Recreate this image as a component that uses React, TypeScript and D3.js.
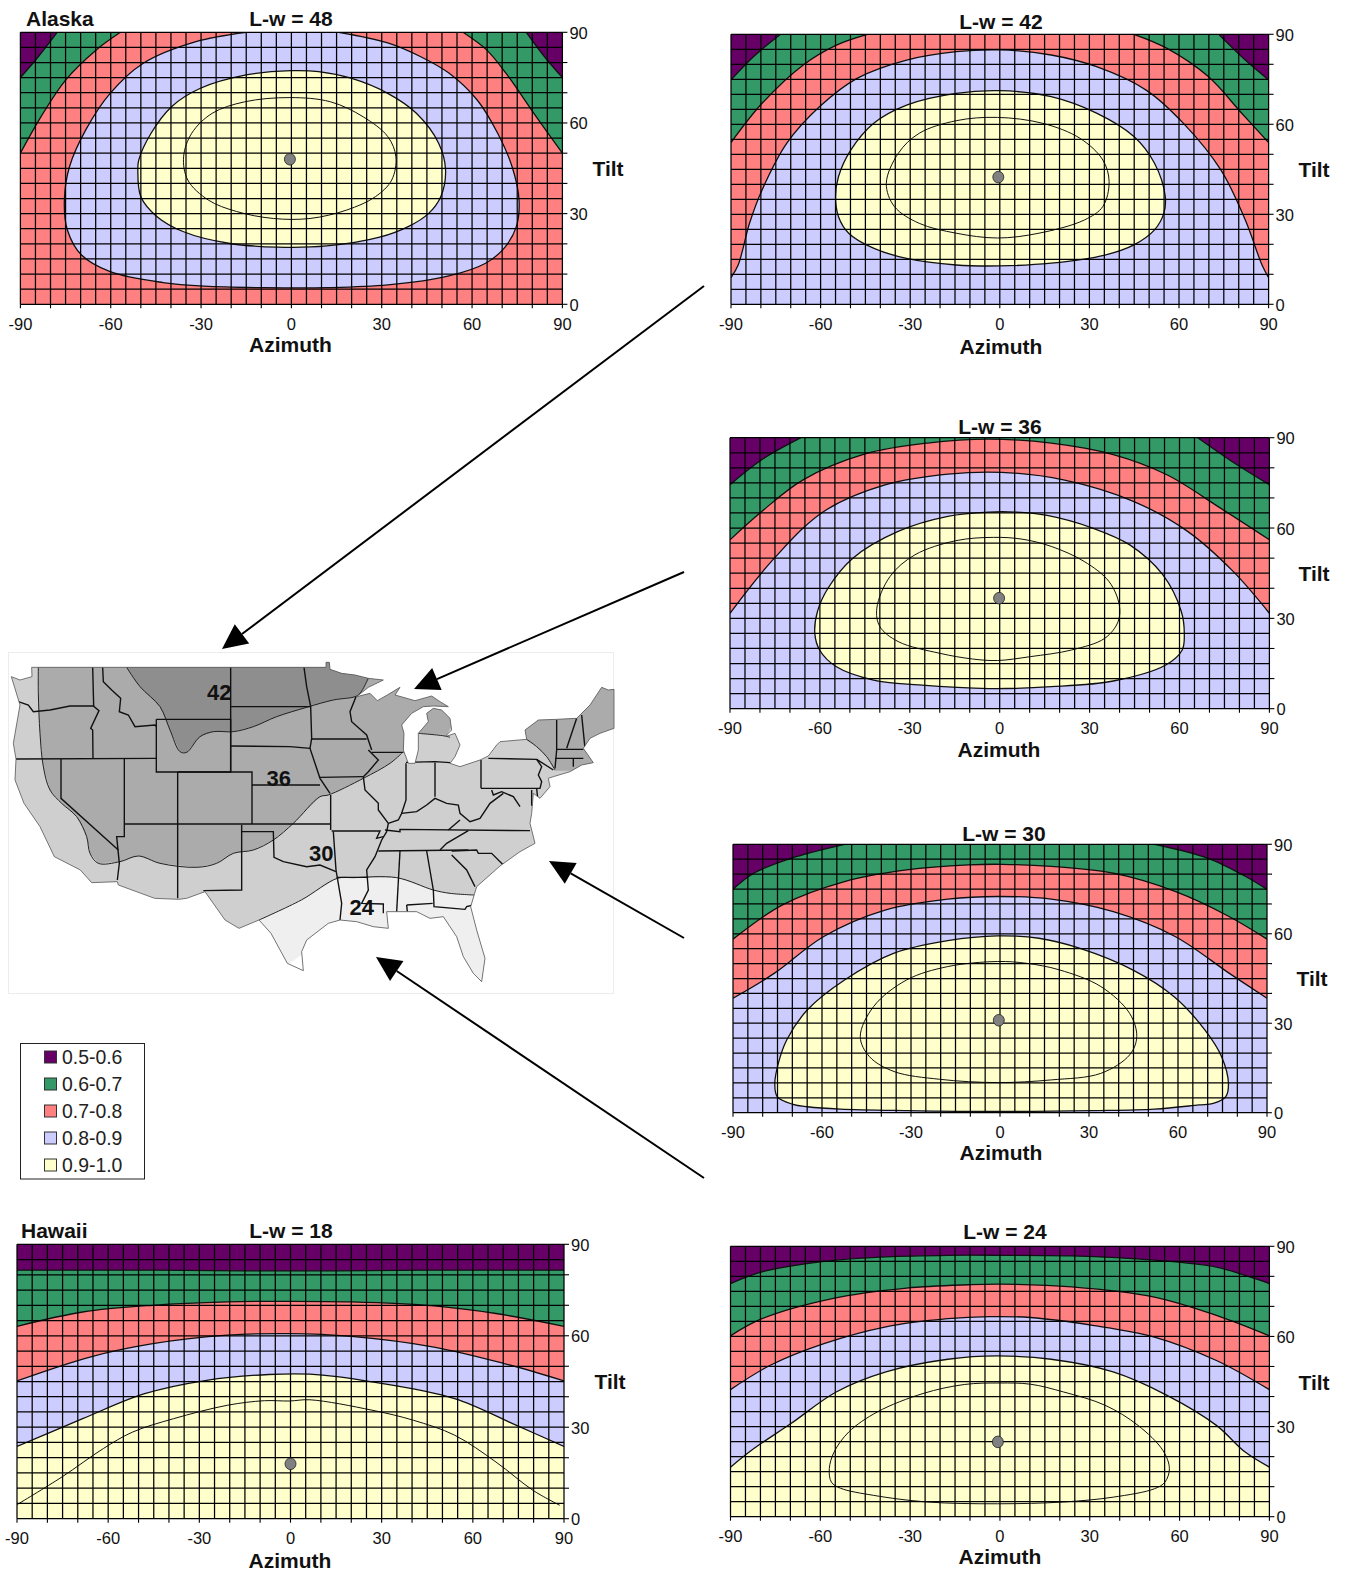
import React from "react";
import * as d3 from "d3";

type P = [number, number];

const bandLabels = ["0.5-0.6", "0.6-0.7", "0.7-0.8", "0.8-0.9", "0.9-1.0"];
const bandColors = ["#660066", "#339966", "#FF8080", "#CCCCFF", "#FFFFCC"];
const tickAz = [-90, -60, -30, 0, 30, 60, 90];
const tickTilt = [0, 30, 60, 90];

// ---- Alaska, L-w 48
const ak06: P[] = [[-90,75],[-84,82],[-77.8,90],[78,90],[84,82],[90,75]];
const ak07: P[] = [[-90,50],[-83.2,62],[-75,74.2],[-64.9,84.1],[-56.8,90],[57,90],[64.9,84.1],[71.3,76.4],[81,62.5],[90,50]];
const ak08: P[] = [[-15,90],[-31.7,86.9],[-49.3,79.7],[-60.2,69.8],[-68.3,57.7],[-73.7,45.5],[-75.4,34.5],[-74.4,24.6],[-69.7,16.3],[-60.2,10.8],[-42.6,7.2],[-29,6],[-8.7,5.5],[11.6,5.5],[32,6.4],[52.3,9.4],[64.5,13.6],[70.6,18.5],[74.7,25.7],[75.6,34.5],[73.3,45.5],[68.5,56.6],[61.7,67.6],[52.3,76.5],[42.8,82],[32,86.5],[15.7,90]];
const ak09: P[] = [[0,77.3],[-15,75.9],[-30.4,71.4],[-39.8,65.4],[-46.6,56.6],[-50.7,47.7],[-51,44.4],[-50,35.6],[-44.6,29],[-35.8,24],[-20.9,20.2],[-4.6,18.9],[11.7,19.3],[29.3,22.2],[38.8,25.7],[45.5,30],[49.6,35.6],[51.2,44.4],[48.9,53.3],[41.5,63.2],[32,69.8],[19.8,74.8],[9,77]];
const ak95: P[] = [[-0.5,68.4],[-15.5,67],[-26.3,63.2],[-33.1,56.6],[-35.8,48.8],[-34.4,41.1],[-27.6,34.5],[-18.2,30.7],[-6,28.4],[6.2,28.4],[18.4,31.2],[27.9,35.6],[33.3,41.1],[34.7,48.8],[32,55.5],[23.9,62],[13,67]];

// ---- L-w 42
const p42_06: P[] = [[-90,74.8],[-82.4,82.6],[-73.4,90],[73.3,90],[82.2,81.4],[90,74.8]];
const p42_07: P[] = [[-90,53.9],[-79.6,67],[-65.8,79.8],[-54.7,86.4],[-44.3,90],[44.9,90],[56,85.3],[69.8,75.9],[81,63.7],[90,53.9]];
const p42_08: P[] = [[-90,8.9],[-87.6,13.1],[-83.8,27],[-79.6,38.1],[-71.3,53.7],[-60.3,65.9],[-47.8,75.3],[-31.2,81.4],[-14.6,84.2],[0,84.8],[17.2,83.1],[32.4,79.2],[49,71.4],[61.5,60.3],[74,44.8],[82.2,28.1],[87.8,13.1],[90,8.9]];
const p42_09: P[] = [[0,71.2],[-14.6,70.3],[-31.2,66.4],[-42.3,60.3],[-49.9,51.4],[-54,42.6],[-55,35.9],[-54,29.2],[-50.6,23.7],[-42.3,18.7],[-31.2,15.3],[-14.6,13.1],[0,12.8],[17.2,13.7],[35.2,16.4],[44.9,19.8],[51.8,24.8],[54.9,30.3],[55.4,35.9],[51.8,47],[44.9,55.9],[32.4,63.7],[17.2,69.2]];
const p42_95: P[] = [[-0.8,62.3],[-14.6,61.2],[-27,57],[-34,50.3],[-38,40.3],[-35.3,32.6],[-27,27],[-14.6,23.7],[-0.8,22.1],[13.1,23.7],[28.3,28.1],[34.5,32.6],[36.6,40.9],[34.5,48.1],[26.9,55.3],[14.5,60.3]];

// ---- L-w 36
const p36_06: P[] = [[-90,74.4],[-79.4,82.7],[-66.3,90],[66.1,90],[79.2,81],[90,74.4]];
const p36_07: P[] = [[-90,56.1],[-79.4,65.5],[-65.6,76],[-44.9,84.6],[-24.2,88.2],[-3.5,89.5],[17.2,88.2],[37.9,84.4],[55.8,77.7],[73.7,66.6],[90,56.1]];
const p36_08: P[] = [[-90,31.7],[-75.2,50],[-58.7,65.5],[-38,74.4],[-17.3,77.9],[0.6,78.5],[21.3,76],[44.8,68.8],[62.7,58.9],[77.9,45.6],[90,31.7]];
const p36_09: P[] = [[-3.5,65.3],[-17.3,63.9],[-33.9,58.9],[-49,50],[-57.3,40],[-60.8,32.3],[-61.7,25],[-60.1,19.5],[-54.6,14],[-42.1,9.5],[-27,7.9],[-3.5,6.7],[17.2,7.3],[37.9,9.2],[55.4,14.5],[60.9,19.5],[61.6,25],[60.6,32.3],[54.4,44.5],[43.4,54.4],[31,60],[15.8,64.2],[5.2,65.3]];
const p36_95: P[] = [[-2.1,56.9],[-14.6,55.8],[-28.3,51.1],[-36.6,43.9],[-41,33.4],[-40,27.3],[-33.9,22.3],[-20,18.4],[-9,16.5],[-0.8,16],[10.3,17.3],[24,19.5],[35.1,23.4],[39.5,28.9],[39.9,34.5],[36.5,42.2],[28.2,48.9],[17.2,53.9],[7.5,56.3]];

// ---- L-w 30
const p30_06: P[] = [[-90,74.9],[-83,80.3],[-70.5,85.3],[-52.4,90],[52.1,90],[70.2,85.3],[82.8,79.2],[90,74.9]];
const p30_07: P[] = [[-90,58.2],[-73.3,69.7],[-52.4,77.5],[-31.5,81.4],[-10.6,83.1],[0.6,83.3],[17.3,82.6],[38.2,80.3],[59,74.2],[77.2,65.8],[90,58.2]];
const p30_08: P[] = [[-90,38.4],[-76,46.8],[-59.4,59.1],[-38.5,68],[-17.6,71.6],[-0.8,72.5],[17.3,71.6],[38.2,67.4],[59,59.1],[77.2,46.8],[90,38.4]];
const p30_09: P[] = [[-0.8,59.3],[-17.6,57.7],[-35.7,53.5],[-52.4,44.5],[-64.9,34.5],[-71.9,24.4],[-74.7,16.6],[-75.9,9.8],[-75.1,5.4],[-69.8,2.8],[-64.9,2],[-53.8,1.2],[-31.5,0.7],[-0.8,0.4],[31.2,0.7],[52.1,1.2],[67,2.6],[71.9,3.1],[76.1,5.4],[77,9.8],[74.7,18.8],[69.1,27.7],[58.7,38.9],[44.7,47.9],[27,55.1],[13.1,58.5]];
const p30_95: P[] = [[-0.8,50.7],[-17.6,49],[-31.5,44.5],[-42.6,35.6],[-47.1,25.5],[-44,18.8],[-35.7,13.8],[-20.3,11.2],[-0.8,10.1],[17.3,11],[34,13.2],[43.7,19.4],[46.1,25.5],[43.7,33.3],[34,42.3],[20,47.9],[8.9,50.1]];

// ---- L-w 24
const p24_06: P[] = [[-90,77.6],[-79.5,81.5],[-58.8,85],[-38.1,86.5],[-17.4,87],[0.4,87],[24,86.8],[51.6,85.4],[72.3,83.1],[83.4,79.8],[90,77.6]];
const p24_07: P[] = [[-90,60.2],[-79.5,65.9],[-56,72.6],[-31.2,76.1],[-10.5,77.2],[0.4,77.4],[24,76.5],[51.6,73.1],[72.3,67],[90,60.2]];
const p24_08: P[] = [[-90,42.3],[-76.7,50.4],[-58.8,57.6],[-38.1,63.2],[-17.4,65.9],[-3.6,66.6],[10.2,66.3],[30.9,63.7],[51.6,59.8],[72.3,52],[90,42.3]];
const p24_09: P[] = [[-90,16.5],[-82.3,22.6],[-69.8,31],[-54.7,41.5],[-38.1,48.2],[-17.4,52.4],[-0.8,53.5],[17.1,52.4],[37.8,48.2],[55.8,40.4],[72.3,30.4],[81.9,21.5],[90,16.5]];
const p24_95: P[] = [[-0.1,44.5],[-11.9,44],[-25.7,41],[-40.9,34.9],[-50.5,28.2],[-55.4,21.5],[-57,16],[-56.3,11.5],[-53.3,9.5],[-42.2,7.1],[-24.3,4.9],[-0.8,4.3],[21.3,4.9],[37.8,6.5],[51.6,9.3],[55.1,11.5],[56.6,16],[54.4,22.1],[46.1,30.4],[35.1,37.1],[21.3,41.5],[10.2,44.1]];

// ---- Hawaii, L-w 18
const hi06: P[] = [[-90,81.5],[-45,81.5],[-15,81.3],[15,81.3],[45,81.5],[90,81.5]];
const hi07: P[] = [[-90,63.1],[-68.4,67.8],[-45.3,70],[-20.8,71.1],[-0.4,71.3],[20,71.1],[47.2,69.8],[67.6,67.3],[90,63.1]];
const hi08: P[] = [[-90,45.2],[-65.7,53.1],[-45.3,57.4],[-20.8,60.2],[-0.4,60.7],[20,59.8],[47.2,56.3],[70.3,50.9],[90,45.2]];
const hi09: P[] = [[-90,23.7],[-68.4,32.8],[-48,41],[-27.6,45.4],[-7.2,47.3],[6.4,47.4],[26.8,44.9],[54,39.4],[74.4,30.6],[90,23.7]];
const hi95: P[] = [[-90,4.6],[-75.2,13.7],[-61.6,23],[-52,28.4],[-38.5,32.8],[-20.8,37.2],[-8.6,38.7],[-0.4,38.6],[6.4,39],[26.8,35.6],[40.4,32.3],[54,27.4],[67.6,18.6],[79.8,9.3],[88.6,4.4]];

// ---- map, in map units
const mapOutline: P[] = [[95,52],[978,52],[978,37],[988,37],[990,58],[1025,70],[1065,75],[1105,85],[1150,90],[1105,112],[1070,140],[1110,130],[1132,152],[1162,135],[1200,112],[1185,135],[1245,152],[1295,138],[1320,155],[1345,170],[1300,168],[1270,170],[1235,190],[1205,225],[1212,250],[1210,300],[1225,340],[1245,340],[1255,300],[1255,250],[1285,215],[1280,190],[1300,175],[1325,180],[1350,205],[1355,240],[1335,260],[1365,250],[1380,285],[1365,320],[1350,340],[1380,350],[1440,330],[1465,318],[1490,285],[1500,275],[1580,268],[1575,240],[1615,210],[1670,208],[1730,205],[1770,165],[1805,112],[1825,120],[1842,118],[1842,235],[1800,250],[1770,265],[1750,295],[1780,338],[1745,345],[1710,365],[1660,380],[1645,385],[1650,410],[1620,445],[1600,430],[1595,490],[1590,520],[1605,580],[1560,605],[1500,648],[1430,710],[1412,770],[1430,840],[1455,925],[1445,995],[1420,970],[1390,920],[1370,860],[1330,800],[1290,805],[1250,785],[1220,785],[1160,785],[1165,835],[1120,830],[1070,815],[1020,810],[985,820],[920,870],[905,905],[910,962],[862,940],[813,850],[777,810],[717,835],[675,810],[615,725],[560,745],[536,748],[464,745],[355,705],[352,695],[275,698],[241,660],[163,620],[120,530],[72,460],[45,390],[48,327],[40,280],[60,165],[34,80],[60,90],[96,80]];
const zone36Line: P[] = [[115,52],[115,130],[120,250],[130,350],[150,420],[185,460],[230,500],[260,560],[270,610],[295,640],[360,635],[415,618],[480,640],[590,652],[650,640],[700,610],[760,600],[820,570],[880,520],[960,440],[985,435],[1090,385],[1170,340],[1205,310]];
const zone36North: P[] = [[1215,310],[1255,250],[1340,255],[1400,150],[1400,0],[115,0]];
const lowerMichiganLine: P[] = [[1255,250],[1335,258],[1350,262]];
const zone36East: P[] = [[1575,268],[1610,290],[1640,320],[1665,362],[1790,362],[1790,345],[1900,340],[1900,50],[1575,50]];
const nyLine: P[] = [[1580,268],[1610,290],[1640,320],[1665,360]];
const zone42Line: P[] = [[380,52],[420,110],[480,170],[510,240],[540,305],[560,307],[600,260],[640,245],[700,245],[760,230],[830,200],[920,172],[1000,150],[1065,140],[1080,130],[1105,85]];
const zone42Top: P[] = [[1105,0],[380,0]];
const zone24Line: P[] = [[777,810],[904,750],[1012,685],[1060,683],[1190,683],[1300,720],[1350,730],[1422,735]];
const zone24South: P[] = [[1500,1000],[777,1000]];
const texasTip: P[] = [[862,945],[904,915],[910,960]];
const stateLines: P[][] = [
  [[55,155],[85,165],[100,185],[150,180],[210,168],[280,168],[297,182],[272,235],[278,240],[279,325]],
  [[278,52],[281,168]],
  [[308,52],[310,95],[335,120],[362,145],[358,185],[385,195],[405,230],[465,225],[470,230]],
  [[48,327],[468,325]],
  [[469,208],[692,208],[692,366],[469,366],[469,208]],
  [[692,52],[692,366]],
  [[692,170],[930,170]],
  [[692,288],[870,290],[930,295],[960,385],[990,430]],
  [[533,366],[756,366],[756,522]],
  [[373,522],[992,522]],
  [[373,327],[373,560],[350,560],[358,640],[352,690]],
  [[533,366],[533,745]],
  [[756,405],[960,405]],
  [[725,525],[725,720],[610,722]],
  [[725,545],[820,545],[822,622],[850,635],[920,650],[960,645],[1008,665]],
  [[183,327],[183,445],[355,600]],
  [[912,52],[920,110],[932,170],[935,265],[930,295]],
  [[933,267],[1100,267]],
  [[1068,140],[1050,185],[1055,215],[1100,255],[1115,300]],
  [[1105,300],[1135,330],[1105,365],[1090,380]],
  [[960,382],[1090,380]],
  [[1115,307],[1210,307]],
  [[992,435],[992,540]],
  [[995,543],[1140,543],[1130,565],[1150,560]],
  [[1090,380],[1095,420],[1135,460],[1135,480],[1165,520],[1160,545],[1145,570],[1125,620],[1100,660],[1105,720],[1085,760],[1150,762],[1150,790]],
  [[1000,545],[1008,660],[1025,760],[1020,810]],
  [[1218,340],[1218,450],[1205,490]],
  [[1305,338],[1305,440]],
  [[1218,337],[1305,335],[1350,338]],
  [[1443,330],[1443,415]],
  [[1165,520],[1195,510],[1205,490],[1250,485],[1280,465],[1305,445],[1340,460],[1375,465],[1380,490],[1410,515],[1440,505],[1470,460],[1510,430]],
  [[1465,325],[1610,328],[1625,350],[1615,375],[1625,395],[1620,415],[1443,415]],
  [[1475,420],[1480,435],[1505,425],[1540,440],[1560,470]],
  [[1155,540],[1200,545],[1200,538],[1590,542]],
  [[1345,540],[1380,510]],
  [[1135,603],[1405,600]],
  [[1405,542],[1340,580],[1320,600]],
  [[1355,603],[1430,600],[1435,610],[1475,610],[1510,645]],
  [[1355,615],[1400,660],[1425,710]],
  [[1200,603],[1190,785]],
  [[1280,603],[1300,720],[1302,770],[1395,778],[1400,770],[1420,765]],
  [[1220,765],[1298,760]],
  [[1220,765],[1222,785]],
  [[1010,682],[1105,682]],
  [[1670,210],[1670,300],[1665,355]],
  [[1730,205],[1700,295]],
  [[1745,195],[1755,295]],
  [[1670,298],[1750,298]],
  [[1665,325],[1750,325]],
  [[1720,325],[1720,350]],
  [[1610,328],[1660,360]],
  [[1595,420],[1595,465],[1615,465],[1610,415]],
];
const zoneLabels = ["42", "36", "30", "24"];
const zoneLabelAt: P[] = [[658,127],[836,385],[964,610],[1085,770]];

const arrowTails: P[] = [[704,286],[684,572],[684,938],[704,1178]];
const arrowTips: P[] = [[222,649],[414,689],[549,861],[376,957]];

const PANELS = [
  { title: "L-w = 48", note: "Alaska", noteX: 26, dotAz: -0.5, dotTilt: 48, base: 0, fills: [ak06, ak07, ak08, ak09], inner: ak95,
    box: [20.4, 562.4, 32.3, 304.3], titleAt: [291, 18], azAt: [290.5, 344], tiltAt: [608, 168.5] },
  { title: "L-w = 42", note: "", noteX: 0, dotAz: -0.5, dotTilt: 42.4, base: 0, fills: [p42_06, p42_07, p42_08, p42_09], inner: p42_95,
    box: [731, 1268.6, 34.3, 304.3], titleAt: [1001, 21], azAt: [1001, 346], tiltAt: [1314, 169.5] },
  { title: "L-w = 36", note: "", noteX: 0, dotAz: -0.2, dotTilt: 36.7, base: 0, fills: [p36_06, p36_07, p36_08, p36_09], inner: p36_95,
    box: [730, 1269.4, 437.7, 708.7], titleAt: [1000, 426], azAt: [999, 749], tiltAt: [1314, 573.5] },
  { title: "L-w = 30", note: "", noteX: 0, dotAz: -0.4, dotTilt: 31, base: 0, fills: [p30_06, p30_07, p30_08, p30_09], inner: p30_95,
    box: [733, 1267, 844.3, 1112.7], titleAt: [1004, 833], azAt: [1001, 1152], tiltAt: [1312, 978.5] },
  { title: "L-w = 24", note: "", noteX: 0, dotAz: -0.7, dotTilt: 24.9, base: 0, fills: [p24_06, p24_07, p24_08, p24_09], inner: p24_95,
    box: [730.5, 1269.4, 1246.3, 1516.7], titleAt: [1005, 1231], azAt: [1000, 1556], tiltAt: [1314, 1382.5] },
  { title: "L-w = 18", note: "Hawaii", noteX: 21, dotAz: 0, dotTilt: 18, base: 0, fills: [hi06, hi07, hi08, hi09], inner: hi95,
    box: [17, 564, 1244.3, 1518.7], titleAt: [291, 1230], azAt: [290, 1560], tiltAt: [610, 1381.5] },
];

const FONT = "'Liberation Sans', Arial, sans-serif";
const INK = "#111";

function splitAtTop(pts: P[]): P[][] {
  const segs: P[][] = [[pts[0]]];
  for (let i = 1; i < pts.length; i++) {
    if (pts[i][1] === 90 && pts[i - 1][1] === 90) segs.push([pts[i]]);
    else segs[segs.length - 1].push(pts[i]);
  }
  return segs;
}

function Panel({ p, idx }: { p: (typeof PANELS)[number]; idx: number }) {
  const [x0, x1, y0, y1] = p.box;
  const x = d3.scaleLinear().domain([-90, 90]).range([x0, x1]);
  const y = d3.scaleLinear().domain([0, 90]).range([y1, y0]);
  const open = d3.line<P>().x((d) => x(d[0])).y((d) => y(d[1])).curve(d3.curveCatmullRom.alpha(0.5));
  const closed = d3.line<P>().x((d) => x(d[0])).y((d) => y(d[1])).curve(d3.curveCatmullRomClosed.alpha(0.5));
  const clipId = `plot-${idx}`;
  const fillPath = (pts: P[]) => {
    const first = pts[0];
    const last = pts[pts.length - 1];
    if (first[0] === -90) {
      const joined = splitAtTop(pts)
        .map((s, i) => (i === 0 ? (open(s) as string) : (open(s) as string).replace("M", "L")))
        .join("");
      return `${joined}L${x(90)},${y(0)}L${x(-90)},${y(0)}Z`;
    }
    if (first[1] === 90 && last[1] === 90) return `${open(pts)}Z`;
    return closed(pts) as string;
  };
  const linePath = (pts: P[]) => {
    const first = pts[0];
    const last = pts[pts.length - 1];
    if (first[0] === -90) return splitAtTop(pts).map((s) => open(s) as string).join("");
    if (first[1] === 90 && last[1] === 90) return open(pts) as string;
    return closed(pts) as string;
  };
  const gridAz = d3.range(-90, 91, 5);
  const gridTilt = d3.range(0, 91, 5);
  const minorAz = d3.range(-90, 91, 10);
  const minorTilt = d3.range(0, 91, 10);
  const innerOpen = p.inner[0][0] === -90;
  return (
    <g fontFamily={FONT}>
      <clipPath id={clipId}>
        <rect x={x0} y={y0} width={x1 - x0} height={y1 - y0} />
      </clipPath>
      <g clipPath={`url(#${clipId})`}>
        <rect x={x0} y={y0} width={x1 - x0} height={y1 - y0} fill={bandColors[p.base]} />
        {p.fills.map((pts, i) => (
          <path key={i} d={fillPath(pts)} fill={bandColors[i + 1]} stroke="none" />
        ))}
        {p.fills.map((pts, i) => (
          <path key={i} d={linePath(pts)} fill="none" stroke={INK} strokeWidth={1.3} />
        ))}
        <path d={(innerOpen ? open(p.inner) : closed(p.inner)) as string} fill="none" stroke={INK} strokeWidth={1} />
      </g>
      {gridAz.map((a) => (
        <line key={a} x1={x(a)} x2={x(a)} y1={y0} y2={y1} stroke="#000" strokeWidth={1.25} />
      ))}
      {gridTilt.map((t) => (
        <line key={t} x1={x0} x2={x1} y1={y(t)} y2={y(t)} stroke="#000" strokeWidth={1.25} />
      ))}
      {minorAz.map((a) => (
        <line key={a} x1={x(a)} x2={x(a)} y1={y1} y2={y1 + 4} stroke="#000" strokeWidth={1.1} />
      ))}
      {minorTilt.map((t) => (
        <line key={t} x1={x1} x2={x1 + 5} y1={y(t)} y2={y(t)} stroke="#000" strokeWidth={1.1} />
      ))}
      <ellipse cx={x(p.dotAz)} cy={y(p.dotTilt)} rx={5.5} ry={5.8} fill="#808080" stroke="#222" strokeWidth={0.8} />
      {tickAz.map((a) => (
        <text key={a} x={x(a)} y={y1 + 25.5} fontSize={16.5} textAnchor="middle" fill="#111">{a}</text>
      ))}
      {tickTilt.map((t) => (
        <text key={t} x={x1 + 7} y={y(t) + 6.5} fontSize={16.5} fill="#111">{t}</text>
      ))}
      <text x={p.titleAt[0]} y={p.titleAt[1] + 7.5} fontSize={21} fontWeight="bold" textAnchor="middle" fill="#111">{p.title}</text>
      {p.note ? <text x={p.noteX} y={p.titleAt[1] + 7.5} fontSize={21} fontWeight="bold" fill="#111">{p.note}</text> : null}
      <text x={p.azAt[0]} y={p.azAt[1] + 7.5} fontSize={21} fontWeight="bold" textAnchor="middle" fill="#111">Azimuth</text>
      <text x={p.tiltAt[0]} y={p.tiltAt[1] + 7.5} fontSize={21} fontWeight="bold" textAnchor="middle" fill="#111">Tilt</text>
    </g>
  );
}

function UsMap() {
  const mx = d3.scaleLinear().domain([0, 3]).range([0, 1]);
  const my = d3.scaleLinear().domain([0, 3]).range([650, 651]);
  const line = d3.line<P>().x((d) => mx(d[0])).y((d) => my(d[1]));
  const smooth = d3.line<P>().x((d) => mx(d[0])).y((d) => my(d[1])).curve(d3.curveCatmullRom.alpha(0.5));
  const outlineD = `${line(mapOutline)}Z`;
  return (
    <g>
      <rect x={8.5} y={652.5} width={605} height={341} fill="#fff" stroke="#ececec" />
      <clipPath id="us-clip"><path d={outlineD} /></clipPath>
      <path d={outlineD} fill="#cfcfcf" />
      <g clipPath="url(#us-clip)">
        <path d={`${line([...zone36Line, ...zone36North])}Z`} fill="#ababab" />
        <path d={`${line(zone36East)}Z`} fill="#ababab" />
        <path d={`${line([...zone42Line, ...zone42Top])}Z`} fill="#8e8e8e" />
        <path d={`${line([...zone24Line, ...zone24South])}Z`} fill="#efefef" />
        <path d={`${line(texasTip)}Z`} fill="#fff" />
        {[zone36Line, zone42Line, zone24Line, lowerMichiganLine, nyLine].map((z, i) => (
          <path key={i} d={smooth(z) as string} fill="none" stroke="#222" strokeWidth={1} />
        ))}
        {stateLines.map((s, i) => (
          <path key={i} d={line(s) as string} fill="none" stroke="#111" strokeWidth={1.4} />
        ))}
      </g>
      <path d={outlineD} fill="none" stroke="#555" strokeWidth={0.8} />
      {zoneLabels.map((t, i) => (
        <text key={t} x={mx(zoneLabelAt[i][0])} y={my(zoneLabelAt[i][1]) + 8} fontFamily={FONT} fontSize={22} fontWeight="bold" textAnchor="middle" fill="#111">{t}</text>
      ))}
    </g>
  );
}

function Arrow({ from, to }: { from: P; to: P }) {
  const dx = to[0] - from[0];
  const dy = to[1] - from[1];
  const len = Math.hypot(dx, dy);
  const ux = dx / len;
  const uy = dy / len;
  const hl = 25;
  const hw = 12;
  const bx = to[0] - ux * hl;
  const by = to[1] - uy * hl;
  const head = [[to[0], to[1]], [bx - uy * hw, by + ux * hw], [bx + uy * hw, by - ux * hw]];
  return (
    <g>
      <line x1={from[0]} y1={from[1]} x2={bx} y2={by} stroke="#000" strokeWidth={2} />
      <polygon points={head.map((q) => q.join(",")).join(" ")} fill="#000" />
    </g>
  );
}

function Legend() {
  const rows = d3.scaleLinear().domain([0, 4]).range([1057, 1165]);
  return (
    <g fontFamily={FONT}>
      <rect x={20.5} y={1043.5} width={124} height={135.5} fill="#fff" stroke="#222" strokeWidth={1} />
      {bandLabels.map((b, i) => (
        <g key={b}>
          <rect x={44.5} y={rows(i) - 6} width={12} height={12} fill={bandColors[i]} stroke="#333" strokeWidth={1} />
          <text x={62} y={rows(i) + 6.8} fontSize={19.4} fill="#222">{b}</text>
        </g>
      ))}
    </g>
  );
}

export default function App() {
  return (
    <svg width={1348} height={1572} viewBox="0 0 1348 1572" style={{ position: "absolute", left: 0, top: 0, background: "#fff" }}>
      <UsMap />
      {arrowTails.map((t, i) => (
        <Arrow key={i} from={t} to={arrowTips[i]} />
      ))}
      <Legend />
      {PANELS.map((p, i) => (
        <Panel key={p.title} p={p} idx={i} />
      ))}
    </svg>
  );
}
